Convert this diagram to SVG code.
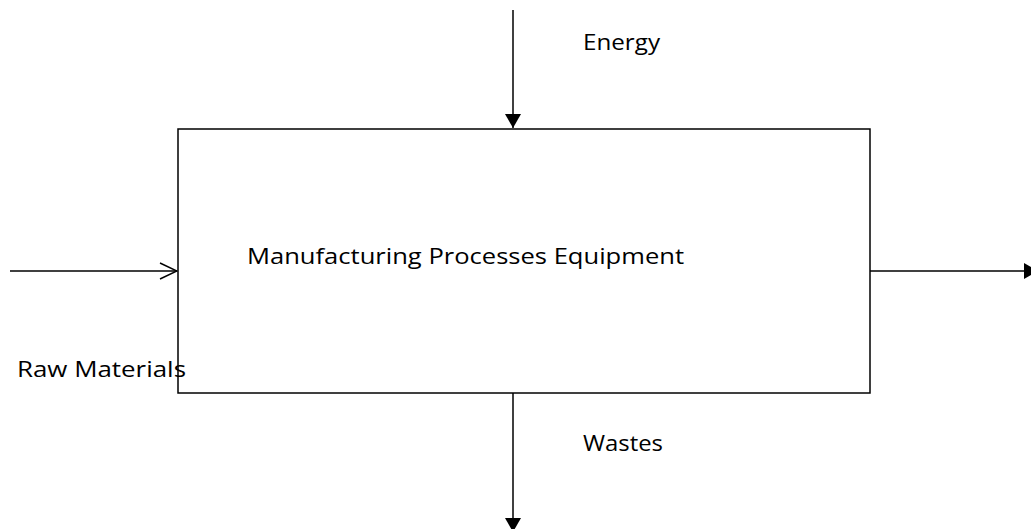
<svg xmlns="http://www.w3.org/2000/svg" width="1031" height="529" viewBox="0 0 1031 529">
<style>
.t{font-family:"Open Sans","Liberation Sans",sans-serif;font-size:22px;fill:#000}
.l{stroke:#000;stroke-width:1.5;fill:none}
</style>
<defs>
<marker id="open" markerWidth="20" markerHeight="20" refX="19" refY="10" orient="auto" markerUnits="userSpaceOnUse" viewBox="0 0 20 20">
<path d="M2,2 L19,10 L2,18" fill="none" stroke="#000" stroke-width="1.5"/>
</marker>
<marker id="fillb" markerWidth="14" markerHeight="16" refX="14" refY="8" orient="auto" markerUnits="userSpaceOnUse" viewBox="0 0 14 16">
<path d="M0,0 L14,8 L0,16 Z" fill="#000"/>
</marker>
</defs>
<g id="box">
<rect x="178" y="129" width="692" height="264" fill="#fff" stroke="#000" stroke-width="1.5"/>
<text class="t" x="247" y="264" textLength="437" lengthAdjust="spacingAndGlyphs">Manufacturing Processes Equipment</text>
</g>
<g id="connectors">
<line class="l" x1="513" y1="10" x2="513" y2="128" marker-end="url(#fillb)"/>
<line class="l" x1="10" y1="271" x2="177" y2="271" marker-end="url(#open)"/>
<line class="l" x1="870" y1="271" x2="1038" y2="271" marker-end="url(#fillb)"/>
<line class="l" x1="513" y1="393" x2="513" y2="532" marker-end="url(#fillb)"/>
</g>
<g id="labels">
<text class="t" x="583" y="50" textLength="77" lengthAdjust="spacingAndGlyphs">Energy</text>
<text class="t" x="17" y="377" textLength="169" lengthAdjust="spacingAndGlyphs">Raw Materials</text>
<text class="t" x="583" y="451" textLength="80" lengthAdjust="spacingAndGlyphs">Wastes</text>
</g>
</svg>
